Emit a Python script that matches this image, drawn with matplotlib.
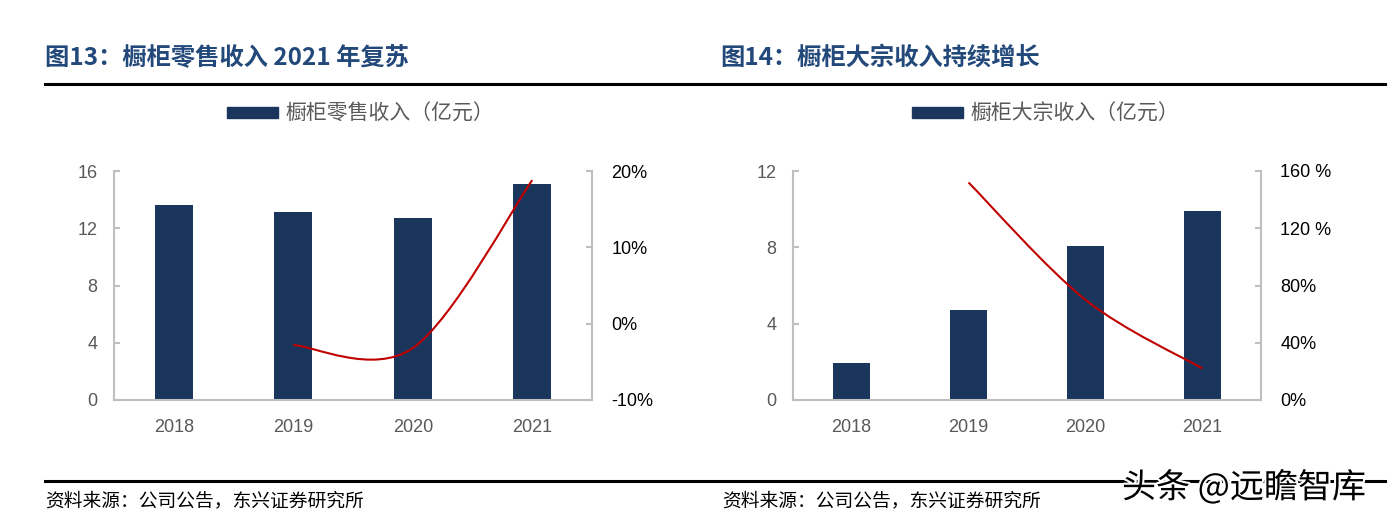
import matplotlib
matplotlib.use("Agg")
import matplotlib.pyplot as plt
from matplotlib.path import Path
from matplotlib.patches import PathPatch, Rectangle
from matplotlib.lines import Line2D
import matplotlib.patheffects as pe
from matplotlib.ticker import FuncFormatter

plt.rcParams['font.family'] = ['Liberation Sans', 'Noto Sans CJK SC', 'DejaVu Sans']

# 数据
years = ['2018', '2019', '2020', '2021']
retail = [13.6, 13.15, 12.75, 15.1]          # 橱柜零售收入（亿元）
retail_growth = [-2.8, -3.2, 18.8]           # 同比增速 %, 2019-2021
bulk = [1.92, 4.72, 8.08, 9.88]              # 橱柜大宗收入（亿元）
bulk_growth = [152, 70, 22]                  # 同比增速 %, 2019-2021

navy = '#1B365D'
red = '#C00000'
grey_axis = '#BFBFBF'
grey_txt = '#595959'
title_c = '#23497A'
CJK = ['Noto Sans CJK SC', 'DejaVu Sans']

fig = plt.figure(figsize=(13.93, 5.23), dpi=100)
W, H = 1393, 523


def fx(px):
    return px / W


def fy(py):
    return 1 - py / H


def smooth_path(xs, ys):
    # Excel 风格平滑曲线：Catmull-Rom 转 Bezier
    pts = list(zip(xs, ys))
    verts = [pts[0]]
    codes = [Path.MOVETO]
    n = len(pts)
    for i in range(n - 1):
        p0 = pts[i - 1] if i > 0 else pts[i]
        p1 = pts[i]
        p2 = pts[i + 1]
        p3 = pts[i + 2] if i + 2 < n else pts[i + 1]
        c1 = (p1[0] + (p2[0] - p0[0]) / 6, p1[1] + (p2[1] - p0[1]) / 6)
        c2 = (p2[0] - (p3[0] - p1[0]) / 6, p2[1] - (p3[1] - p1[1]) / 6)
        verts += [c1, c2, p2]
        codes += [Path.CURVE4] * 3
    return Path(verts, codes)


def make_chart(left_px, right_px, vals, growth, ymax, ystep, g_lim, g_step, pct_fmt):
    ax = fig.add_axes([fx(left_px), fy(400), fx(right_px - left_px), (400 - 171) / H])
    x = range(len(years))
    ax.bar(x, vals, width=0.32, color=navy, zorder=2)
    ax.set_xlim(-0.5, len(years) - 0.5)
    ax.set_ylim(0, ymax)
    ax.set_yticks(range(0, ymax + 1, ystep))
    ax.set_xticks(list(x))
    ax.set_xticklabels(years)
    for s in ['top', 'right']:
        ax.spines[s].set_visible(False)
    for s in ['left', 'bottom']:
        ax.spines[s].set_color(grey_axis)
        ax.spines[s].set_linewidth(1.5)
    ax.tick_params(axis='y', direction='in', length=4.5, width=1.5, color=grey_axis,
                   labelsize=13, labelcolor=grey_txt, pad=12)
    ax.tick_params(axis='x', length=0, labelsize=13, labelcolor=grey_txt, pad=14)

    ax2 = ax.twinx()
    ax2.set_ylim(*g_lim)
    ax2.set_yticks(range(g_lim[0], g_lim[1] + 1, g_step))
    ax2.yaxis.set_major_formatter(FuncFormatter(pct_fmt))
    for s in ['top', 'left', 'bottom']:
        ax2.spines[s].set_visible(False)
    ax2.spines['right'].set_color(grey_axis)
    ax2.spines['right'].set_linewidth(1.5)
    ax2.tick_params(axis='y', direction='in', length=4.5, width=1.5, color=grey_axis,
                    labelsize=13, labelcolor='black', pad=14)
    path = smooth_path(list(x)[1:], growth)
    ax2.add_patch(PathPatch(path, fill=False, edgecolor=red, lw=1.5, zorder=3))
    return ax, ax2


make_chart(114, 592, retail, retail_growth, 16, 4, (-10, 20), 10,
           lambda v, p: f'{int(v)}%')
make_chart(793, 1261, bulk, bulk_growth, 12, 4, (0, 160), 40,
           lambda v, p: f'{int(v)} %' if v >= 100 else f'{int(v)}%')

# 标题
fig.text(fx(45), fy(58), '图13：橱柜零售收入 2021 年复苏', fontsize=17.5, fontweight='bold',
         color=title_c, family=CJK, va='center')
fig.text(fx(720), fy(58), '图14：橱柜大宗收入持续增长', fontsize=17.5, fontweight='bold',
         color=title_c, family=CJK, va='center')

# 分隔线
fig.add_artist(Line2D([fx(45), fx(1385)], [fy(84), fy(84)], color='black', lw=2.2))
fig.add_artist(Line2D([fx(45), fx(1385)], [fy(481), fy(481)], color='black', lw=2.2))

# 图例
for rx, tx, label in [(227, 285, '橱柜零售收入（亿元）'), (912, 970, '橱柜大宗收入（亿元）')]:
    fig.add_artist(Rectangle((fx(rx), fy(118)), fx(51), 11 / H, color=navy,
                             transform=fig.transFigure))
    fig.text(fx(tx), fy(114), label, fontsize=15, color=grey_txt, family=CJK, va='center')

# 资料来源
for sx in [45, 722]:
    fig.text(fx(sx), fy(501), '资料来源：公司公告，东兴证券研究所', fontsize=13.5,
             style='italic', color='black', family=CJK, va='center')

# 水印
fig.text(fx(1122), fy(488), '头条 @远瞻智库', fontsize=24.5, color='black', family=CJK,
         va='center', path_effects=[pe.withStroke(linewidth=3, foreground='white')])

fig.savefig('out.png', dpi=100)
